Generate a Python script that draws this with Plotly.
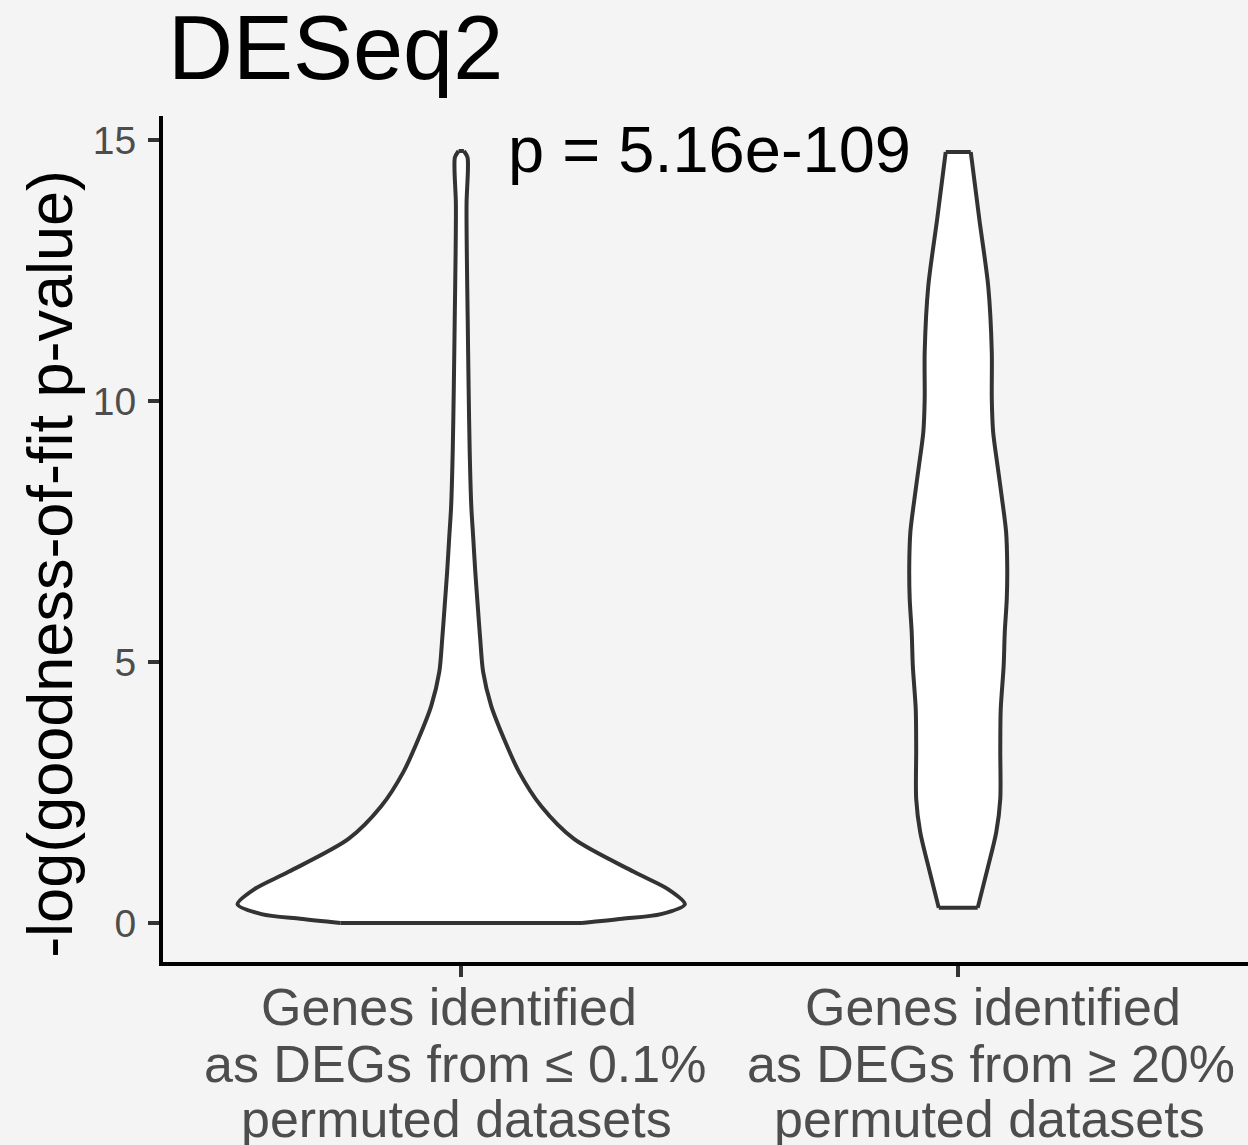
import plotly.graph_objects as go

FONT = "Liberation Sans"

# Category positions on the discrete x axis and their (multi-line) labels
cat_positions = [1, 2]
cat_labels = [
    ["Genes identified", "as DEGs from \u2264 0.1%", "permuted datasets"],
    ["Genes identified", "as DEGs from \u2265 20%", "permuted datasets"],
]

# Density profile of each violin: y levels and relative half-width (1 = widest)
violin1_y = [0.0, 0.08, 0.17, 0.36, 0.65, 0.98, 1.61, 2.24, 2.89, 3.52, 4.16,
             4.81, 5.44, 6.07, 6.72, 7.36, 7.99, 9.02, 10.29, 11.57, 12.85,
             13.81, 14.44, 14.67, 14.79]
violin1_w = [0.54, 0.72, 0.893, 1.0, 0.924, 0.772, 0.504, 0.357, 0.259, 0.192,
             0.134, 0.098, 0.085, 0.074, 0.063, 0.054, 0.045, 0.038, 0.033,
             0.029, 0.025, 0.024, 0.030, 0.028, 0.012]

violin2_y = [0.29, 1.09, 1.74, 2.38, 3.33, 4.10, 4.92, 5.57, 6.21, 6.84, 7.49,
             8.12, 8.75, 9.41, 10.04, 10.94, 12.20, 13.49, 14.77]
violin2_w = [0.087, 0.134, 0.170, 0.188, 0.188, 0.190, 0.203, 0.208, 0.217,
             0.219, 0.214, 0.196, 0.176, 0.156, 0.150, 0.150, 0.134, 0.094,
             0.056]

yticks = [0, 5, 10, 15]
p_label = "p = 5.16e-109"

HALF_WIDTH = 0.45  # half of the violin width in category units
OUTLINE = dict(color="#333333", width=4)

fig = go.Figure()

violins = [(cat_positions[0], violin1_y, violin1_w),
           (cat_positions[1], violin2_y, violin2_w)]

for pos, ys, ws in violins:
    left = [pos - w * HALF_WIDTH for w in ws]
    right = [pos + w * HALF_WIDTH for w in ws]

    # white body: area between the smoothed left and right edges
    fig.add_trace(go.Scatter(
        x=left, y=ys, mode="lines",
        line=dict(width=0, shape="spline", smoothing=0.8),
        hoverinfo="skip", showlegend=False,
    ))
    fig.add_trace(go.Scatter(
        x=right, y=ys, mode="lines", fill="tonextx", fillcolor="white",
        line=dict(width=0, shape="spline", smoothing=0.8),
        hoverinfo="skip", showlegend=False,
    ))

for pos, ys, ws in violins:
    left = [pos - w * HALF_WIDTH for w in ws]
    right = [pos + w * HALF_WIDTH for w in ws]
    # curved sides
    for xs in (left, right):
        fig.add_trace(go.Scatter(
            x=xs, y=ys, mode="lines",
            line=dict(**OUTLINE, shape="spline", smoothing=0.8),
            hoverinfo="skip", showlegend=False,
        ))
    # flat ends where the density is trimmed at the data range
    for i in (0, -1):
        fig.add_trace(go.Scatter(
            x=[left[i], right[i]], y=[ys[i], ys[i]], mode="lines",
            line=dict(**OUTLINE, shape="linear"),
            hoverinfo="skip", showlegend=False,
        ))

annotations = []

# p-value label between the two groups
annotations.append(dict(
    text=p_label, x=1.5, y=14.81, xref="x", yref="y", xshift=0,
    xanchor="center", yanchor="middle", showarrow=False,
    font=dict(family=FONT, size=65, color="black"),
))

# y axis title
annotations.append(dict(
    text="-log(goodness-of-fit p-value)", textangle=-90,
    x=0, xref="paper", xshift=-113, y=6.88, yref="y",
    xanchor="center", yanchor="middle", showarrow=False,
    font=dict(family=FONT, size=63, color="black"),
))

# x category labels, one annotation per line
line_yshift = [-45, -102, -157]
line_xshift = [[-12, -6, -5], [35, 33, 31]]
for ci, (pos, lines) in enumerate(zip(cat_positions, cat_labels)):
    for li, line in enumerate(lines):
        annotations.append(dict(
            text=line, x=pos, xref="x", y=0, yref="paper",
            xshift=line_xshift[ci][li], yshift=line_yshift[li],
            xanchor="center", yanchor="middle", showarrow=False,
            font=dict(family=FONT, size=52, color="#4d4d4d"),
        ))

fig.update_layout(
    width=1248, height=1145,
    margin=dict(l=163, r=0, t=116, b=183, pad=0),
    paper_bgcolor="#f4f4f4", plot_bgcolor="#f4f4f4",
    font=dict(family=FONT),
    title=dict(
        text="DESeq2", x=0, xref="paper", xanchor="left",
        y=1 - 47 / 1145, yref="container", yanchor="middle",
        pad=dict(l=5),
        font=dict(family=FONT, size=90, color="black"),
    ),
    xaxis=dict(
        range=[0.4, 2.583], tickvals=cat_positions, showticklabels=False,
        ticks="outside", ticklen=11, tickwidth=3.5, tickcolor="#333333",
        showline=True, linecolor="black", linewidth=4,
        showgrid=False, zeroline=False, fixedrange=True,
    ),
    yaxis=dict(
        range=[-0.747, 15.46], tickvals=yticks,
        ticks="outside", ticklen=11, tickwidth=3.5, tickcolor="#333333",
        tickfont=dict(family=FONT, size=39, color="#4d4d4d"),
        ticklabelstandoff=4,
        showline=True, linecolor="black", linewidth=4,
        showgrid=False, zeroline=False, fixedrange=True,
    ),
    annotations=annotations,
)

fig.write_html("out.html")
